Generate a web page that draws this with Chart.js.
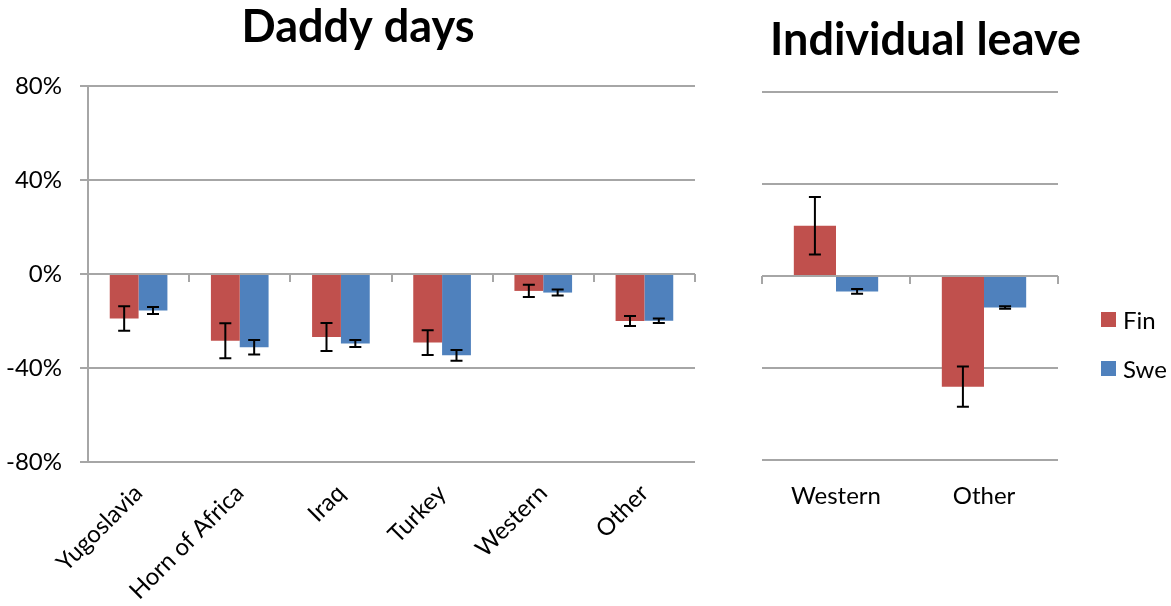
<!DOCTYPE html>
<html>
<head>
<meta charset="utf-8">
<script src="https://cdn.jsdelivr.net/npm/chart.js@4.4.1/dist/chart.umd.min.js"></script>
<style>
  body { margin: 0; background: #fff; }
  #wrap { position: relative; width: 1171px; height: 606px; overflow: hidden; }
  canvas { position: absolute; top: 0; }
  #c1 { left: 0; }
  #c2 { left: 680px; }
  #legend { position: absolute; left: 1101px; top: 304px; font-family: Lato, "Open Sans", sans-serif; font-size: 24px; color: #000; }
  #legend div { display: flex; align-items: center; height: 31px; margin-bottom: 18px; }
  #legend span { display: inline-block; width: 15px; height: 15px; margin-right: 7px; }
</style>
</head>
<body>
<div id="wrap">
  <canvas id="c1" width="716" height="606"></canvas>
  <canvas id="c2" width="491" height="606"></canvas>
  <div id="legend"></div>
</div>
<script>
const categories = ["Yugoslavia", "Horn of Africa", "Iraq", "Turkey", "Western", "Other"];
const daddyFin = [-18.9, -28.4, -26.8, -29.2, -7.2, -20.0];
const daddyFinErr = [5.2, 7.4, 6.0, 5.3, 2.6, 2.1];
const daddySwe = [-15.5, -31.2, -29.6, -34.6, -7.9, -19.9];
const daddySweErr = [1.5, 3.1, 1.5, 2.3, 1.3, 1.0];

const leaveCategories = ["Western", "Other"];
const leaveFin = [21.9, -48.1];
const leaveFinErr = [12.5, 8.8];
const leaveSwe = [-6.7, -13.7];
const leaveSweErr = [1.0, 0.5];

const yTicks = [-80, -40, 0, 40, 80];

const FIN = "#c0504d";
const SWE = "#4f81bd";
const GRID = "#a6a6a6";
const FONT = "Lato, 'Open Sans', sans-serif";

// draws the error bars from each dataset's "err" array
const errorBars = {
  id: "errorBars",
  afterDatasetsDraw(chart) {
    const { ctx } = chart;
    const y = chart.scales.y;
    ctx.save();
    ctx.strokeStyle = "#000";
    ctx.lineWidth = 2;
    chart.data.datasets.forEach((ds, i) => {
      const meta = chart.getDatasetMeta(i);
      meta.data.forEach((bar, j) => {
        const v = ds.data[j];
        const e = ds.err[j];
        const top = y.getPixelForValue(v + e);
        const bot = y.getPixelForValue(v - e);
        const cap = 6;
        ctx.beginPath();
        ctx.moveTo(bar.x, top);
        ctx.lineTo(bar.x, bot);
        ctx.moveTo(bar.x - cap, top);
        ctx.lineTo(bar.x + cap, top);
        ctx.moveTo(bar.x - cap, bot);
        ctx.lineTo(bar.x + cap, bot);
        ctx.stroke();
      });
    });
    ctx.restore();
  },
};

function makeChart(el, cfg) {
  return new Chart(el, {
    type: "bar",
    data: {
      labels: cfg.labels,
      datasets: [
        { label: "Fin", data: cfg.fin, err: cfg.finErr, backgroundColor: FIN },
        { label: "Swe", data: cfg.swe, err: cfg.sweErr, backgroundColor: SWE },
      ],
    },
    plugins: [errorBars],
    options: {
      responsive: false,
      animation: false,
      categoryPercentage: 0.57,
      barPercentage: 1,
      layout: { padding: 0 },
      plugins: {
        legend: { display: false },
        tooltip: { enabled: false },
        title: {
          display: true,
          text: cfg.title,
          color: "#000",
          font: { family: FONT, size: 45, weight: "bold", lineHeight: 1.2 },
          padding: cfg.titlePad,
        },
      },
      scales: {
        x: {
          position: "bottom",
          grid: { display: false, drawTicks: false },
          border: { display: false },
          ticks: {
            color: "#000",
            font: { family: FONT, size: 24 },
            padding: cfg.labelPad,
            minRotation: cfg.rotation,
            maxRotation: cfg.rotation,
            autoSkip: false,
          },
          afterFit: (s) => { s.height = cfg.xHeight; },
        },
        x2: {
          type: "category",
          axis: "x",
          position: { y: 0 },
          offset: true,
          grid: { offset: true, drawOnChartArea: false, drawTicks: true, tickLength: 8, color: GRID, lineWidth: 2 },
          border: { display: false },
          ticks: { display: false },
          afterFit: (s) => { s.height = 0; },
        },
        y: {
          min: -80,
          max: 80,
          afterBuildTicks: (s) => { s.ticks = yTicks.map((v) => ({ value: v })); },
          grid: { color: GRID, lineWidth: 2, drawTicks: cfg.yLabels, tickLength: 8 },
          border: { display: cfg.yLabels, color: GRID, width: 2 },
          ticks: {
            display: cfg.yLabels,
            color: "#000",
            padding: 18,
            font: { family: FONT, size: 24 },
            callback: (v) => v + "%",
          },
          afterFit: (s) => { s.width = cfg.yWidth; },
        },
        // empty right-hand axis that keeps room (and the legend) beside the plot
        yr: {
          position: "right",
          grid: { display: false },
          border: { display: false },
          ticks: { display: false },
          afterFit: (s) => { s.width = cfg.rightGap; },
        },
      },
    },
  });
}

makeChart(document.getElementById("c1"), {
  title: "Daddy days",
  labels: categories,
  fin: daddyFin, finErr: daddyFinErr,
  swe: daddySwe, sweErr: daddySweErr,
  titlePad: { top: 0, bottom: 32 },
  labelPad: 17,
  rotation: 45,
  xHeight: 144,
  yLabels: true,
  yWidth: 88,
  rightGap: 21,
});

makeChart(document.getElementById("c2"), {
  title: "Individual leave",
  labels: leaveCategories,
  fin: leaveFin, finErr: leaveFinErr,
  swe: leaveSwe, sweErr: leaveSweErr,
  titlePad: { top: 13, bottom: 25 },
  labelPad: 22,
  rotation: 0,
  xHeight: 146,
  yLabels: false,
  yWidth: 82,
  rightGap: 113,
});

// legend
const legend = document.getElementById("legend");
[["Fin", FIN], ["Swe", SWE]].forEach(([name, color]) => {
  const row = document.createElement("div");
  row.innerHTML = `<span style="background:${color}"></span>${name}`;
  legend.appendChild(row);
});
</script>
</body>
</html>
